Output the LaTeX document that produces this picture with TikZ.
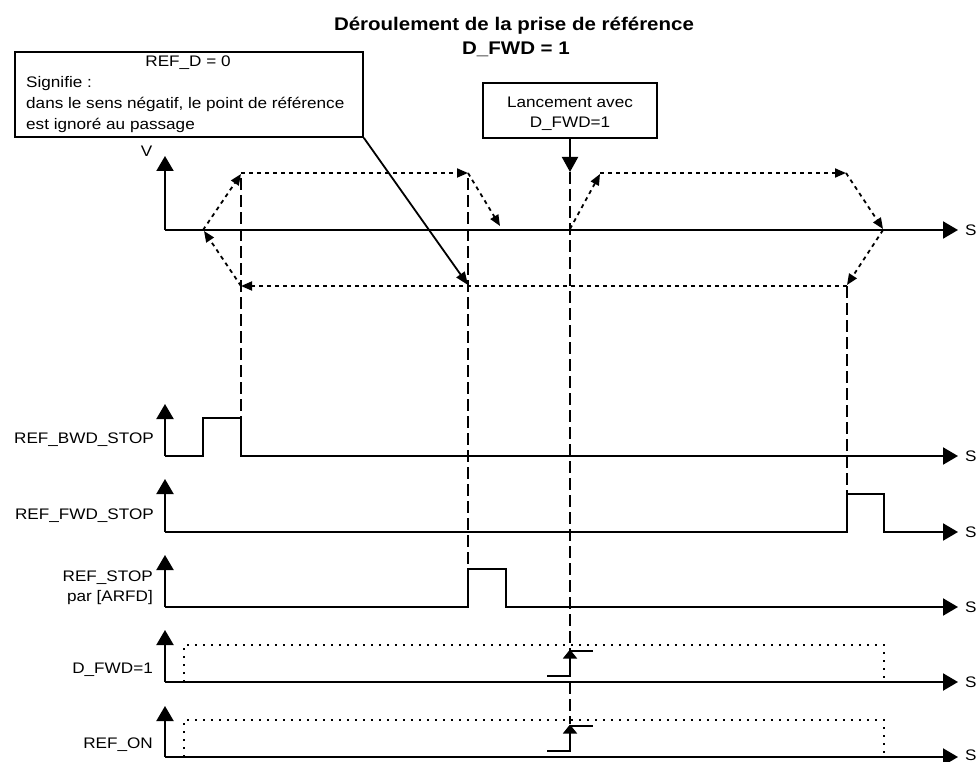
\documentclass[tikz,border=0pt]{standalone}
\usepackage{fontspec}
\setmainfont{Liberation Sans}[FakeStretch=1.12]
\usetikzlibrary{arrows.meta}

\begin{document}
\begin{tikzpicture}[x=1pt, y=-1pt,
  txt/.style={inner sep=0pt, font=\fontsize{15.3}{18}\selectfont},
  ttl/.style={inner sep=0pt, font=\bfseries\fontsize{18.3}{22}\selectfont},
  box/.style={draw, line width=1.8pt, inner sep=0pt},
  axis/.style={line width=2.1pt, -{Triangle[length=15pt,width=17pt]}},
  sig/.style={line width=2.1pt, line join=miter},
  guide/.style={line width=2pt, dash pattern=on 12pt off 5pt},
  move/.style={line width=1.8pt, dash pattern=on 4pt off 4pt, -{Triangle[length=11pt,width=9pt]}},
  frame/.style={line width=1.6pt, dash pattern=on 2pt off 6pt},
  edge/.style={line width=1.7pt},
  pointer/.style={line width=1.8pt, -{Triangle[length=13pt,width=10pt]}}
]
\useasboundingbox (0,0) rectangle (979,762);

% ---- title ----
\node[ttl, anchor=base] (title1) at (514,31) {Déroulement de la prise de référence};
\node[ttl, anchor=base] (title2) at (516,55) {D\_FWD = 1};

% ---- explanatory note ----
\node[box, minimum width=348pt, minimum height=85pt, anchor=north west] (note) at (14,51) {};
\node[txt, anchor=base] (noteA) at (188,67) {REF\_D = 0};
\node[txt, anchor=base west] (noteB) at (26,88) {Signifie :};
\node[txt, anchor=base west] (noteC) at (26,109) {dans le sens négatif, le point de référence};
\node[txt, anchor=base west] (noteD) at (26,130) {est ignoré au passage};
\coordinate (refpt) at (468,285);
\draw[pointer] (note.south east) -- (refpt);

% ---- start command ----
\node[box, minimum width=174pt, minimum height=55pt] (start) at (570,110.7) {};
\node[txt, anchor=base] (startA) at (570,107.3) {Lancement avec};
\node[txt, anchor=base] (startB) at (570,127.3) {D\_FWD=1};
\coordinate (launch) at (570,172);
\draw[line width=2pt, -{Triangle[length=15pt,width=16pt]}] (start.south) -- (launch);

% ---- speed axis ----
\coordinate (vO) at (165,230);
\draw[axis] (vO) -- (165,156);
\draw[axis] (vO) -- (958,230);
\node[txt] (vlbl) at (146.7,151) {V};
\node[txt, anchor=west] (vS) at (965,230) {S};

% ---- motion profile ----
\coordinate (m0) at (570,229);
\coordinate (m1) at (600,174);
\coordinate (m2) at (846,173);
\coordinate (m3) at (883,229);
\coordinate (m4) at (847,285);
\coordinate (m5) at (241,286);
\coordinate (m6) at (204,231);
\coordinate (m7) at (241,174);
\coordinate (m8) at (468,173);
\coordinate (m9) at (500,226);
\draw[move] (m0) -- (m1);
\draw[move] (600,173) -- (m2);
\draw[move] (m2) -- (m3);
\draw[move] (883,230) -- (m4);
\draw[move] (847,286) -- (m5);
\draw[move] (m5) -- (m6);
\draw[move] (203,230) -- (m7);
\draw[move] (241,173) -- (m8);
\draw[move] (m8) -- (m9);

% ---- REF_BWD_STOP ----
\node[txt, anchor=base east] (lbwd) at (154,443.3) {REF\_BWD\_STOP};
\draw[axis] (165,456) -- (165,404);
\draw[sig, -{Triangle[length=15pt,width=17pt]}] (165,456) -- (203,456) -- (203,418) -- (241,418) -- (241,456) -- (958,456);
\node[txt, anchor=west] (sbwd) at (965,456) {S};

% ---- REF_FWD_STOP ----
\node[txt, anchor=base east] (lfwd) at (154,519.3) {REF\_FWD\_STOP};
\draw[axis] (165,532) -- (165,479);
\draw[sig, -{Triangle[length=15pt,width=17pt]}] (165,532) -- (847,532) -- (847,494) -- (884,494) -- (884,532) -- (958,532);
\node[txt, anchor=west] (sfwd) at (965,532) {S};

% ---- REF_STOP ----
\node[txt, anchor=base east] (lstopA) at (153,581) {REF\_STOP};
\node[txt, anchor=base east] (lstopB) at (153,601.5) {par [ARFD]};
\draw[axis] (165,607) -- (165,555);
\draw[sig, -{Triangle[length=15pt,width=17pt]}] (165,607) -- (468,607) -- (468,569) -- (506,569) -- (506,607) -- (958,607);
\node[txt, anchor=west] (sstop) at (965,607) {S};

% ---- D_FWD=1 ----
\node[txt, anchor=base east] (ldfwd) at (153,673.3) {D\_FWD=1};
\draw[axis] (165,682) -- (165,630);
\draw[axis] (165,682) -- (958,682);
\draw[frame] (184,682) -- (184,645) -- (884,645) -- (884,682);
\node[txt, anchor=west] (sdfwd) at (965,682) {S};
\draw[edge, -{Triangle[length=9pt,width=14pt]}] (547,676) -- (570,676) -- (570,649.5);
\draw[edge] (570,650.7) -- (593,650.7);

% ---- REF_ON ----
\node[txt, anchor=base east] (lon) at (153,748.3) {REF\_ON};
\draw[axis] (165,757) -- (165,706);
\draw[axis] (165,757) -- (958,757);
\draw[frame] (184,757) -- (184,720) -- (884,720) -- (884,757);
\node[txt, anchor=west] (son) at (965,755.5) {S};
\draw[edge, -{Triangle[length=9pt,width=14pt]}] (547,751) -- (570,751) -- (570,724.5);
\draw[edge] (570,725.7) -- (593,725.7);

% ---- event guides ----
\draw[guide] (241,178) -- (241,418);
\draw[guide] (468,178) -- (468,569);
\draw[guide] (launch) -- (570,724);
\draw[guide] (847,286) -- (847,494);

\end{tikzpicture}
\end{document}
